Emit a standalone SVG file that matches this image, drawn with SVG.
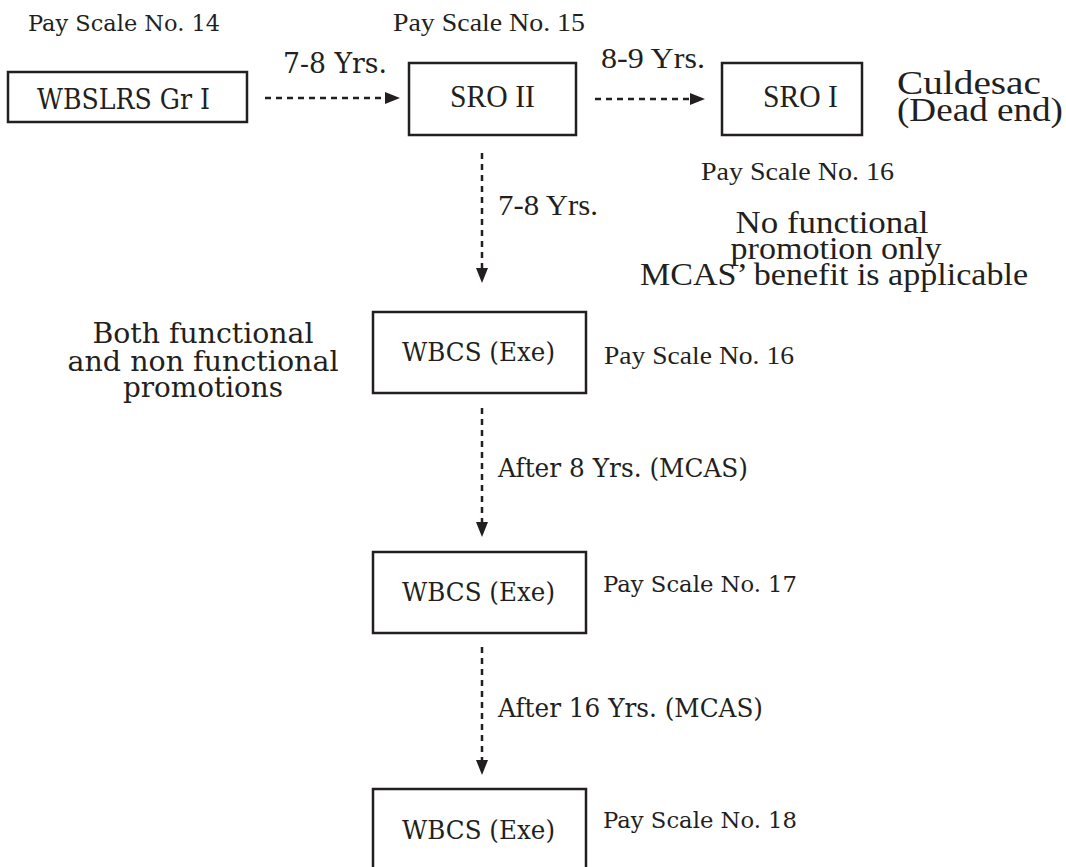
<svg xmlns="http://www.w3.org/2000/svg" width="1066" height="867" viewBox="0 0 1066 867">
<defs>
<style>
.box{fill:#fff;stroke:#231f20;stroke-width:2.5}
.sb{font-family:"DejaVu Serif","Liberation Serif",serif;fill:#231f20}
.tm{font-family:"Liberation Serif","Times New Roman",serif;fill:#231f20}
.con{stroke:#231f20;stroke-width:2.5;stroke-dasharray:6 5;fill:none}
</style>
<marker id="ah" markerUnits="userSpaceOnUse" markerWidth="15" markerHeight="12" refX="0" refY="6" orient="auto">
<path d="M0,0 L15,6 L0,12 Z" fill="#231f20"/>
</marker>
</defs>
<rect width="1066" height="867" fill="#fff"/>

<g id="connectors">
<line class="con" x1="265" y1="98" x2="385" y2="98" marker-end="url(#ah)"/>
<line class="con" x1="595" y1="99" x2="690" y2="99" marker-end="url(#ah)"/>
<line class="con" x1="482" y1="153" x2="482" y2="268" marker-end="url(#ah)"/>
<line class="con" x1="482" y1="408" x2="482" y2="522" marker-end="url(#ah)"/>
<line class="con" x1="482" y1="647" x2="482" y2="760" marker-end="url(#ah)"/>
<text class="sb" x="283" y="73" font-size="27" textLength="104" lengthAdjust="spacingAndGlyphs">7-8 Yrs.</text>
<text class="tm" x="601" y="68" font-size="30" textLength="104" lengthAdjust="spacingAndGlyphs">8-9 Yrs.</text>
<text class="tm" x="498" y="215" font-size="30" textLength="100" lengthAdjust="spacingAndGlyphs">7-8 Yrs.</text>
<text class="sb" x="498" y="477" font-size="25.5" textLength="250" lengthAdjust="spacingAndGlyphs">After 8 Yrs. (MCAS)</text>
<text class="sb" x="498" y="717" font-size="25.5" textLength="265" lengthAdjust="spacingAndGlyphs">After 16 Yrs. (MCAS)</text>
</g>

<g id="wbslrs">
<text class="sb" x="28" y="31" font-size="22" textLength="192" lengthAdjust="spacingAndGlyphs">Pay Scale No. 14</text>
<rect class="box" x="8" y="72" width="239" height="50"/>
<text class="sb" x="37" y="109" font-size="27" textLength="173" lengthAdjust="spacingAndGlyphs">WBSLRS Gr I</text>
</g>

<g id="sro2">
<text class="tm" x="393" y="31" font-size="26" textLength="192" lengthAdjust="spacingAndGlyphs">Pay Scale No. 15</text>
<rect class="box" x="409" y="63" width="167" height="72"/>
<text class="tm" x="450" y="107" font-size="31" textLength="85" lengthAdjust="spacingAndGlyphs">SRO II</text>
</g>

<g id="sro1">
<rect class="box" x="722" y="63" width="140" height="72"/>
<text class="tm" x="763" y="107" font-size="31" textLength="75" lengthAdjust="spacingAndGlyphs">SRO I</text>
<text class="tm" x="897" y="94" font-size="33" textLength="144" lengthAdjust="spacingAndGlyphs">Culdesac</text>
<text class="tm" x="897" y="121" font-size="33" textLength="166" lengthAdjust="spacingAndGlyphs">(Dead end)</text>
<text class="tm" x="701" y="180" font-size="26" textLength="193" lengthAdjust="spacingAndGlyphs">Pay Scale No. 16</text>
</g>

<g id="note-right">
<text class="tm" x="832" y="233" font-size="32" text-anchor="middle" textLength="193" lengthAdjust="spacingAndGlyphs">No functional</text>
<text class="tm" x="836" y="259" font-size="32" text-anchor="middle" textLength="211" lengthAdjust="spacingAndGlyphs">promotion only</text>
<text class="tm" x="834" y="285" font-size="32" text-anchor="middle" textLength="388" lengthAdjust="spacingAndGlyphs">MCAS’ benefit is applicable</text>
</g>

<g id="note-left">
<text class="sb" x="203" y="343" font-size="28" text-anchor="middle" textLength="221" lengthAdjust="spacingAndGlyphs">Both functional</text>
<text class="sb" x="203" y="371" font-size="28" text-anchor="middle" textLength="271" lengthAdjust="spacingAndGlyphs">and non functional</text>
<text class="sb" x="203" y="397" font-size="28" text-anchor="middle" textLength="160" lengthAdjust="spacingAndGlyphs">promotions</text>
</g>

<g id="wbcs16">
<rect class="box" x="373" y="312" width="213" height="81"/>
<text class="sb" x="402" y="361" font-size="26" textLength="153" lengthAdjust="spacingAndGlyphs">WBCS (Exe)</text>
<text class="tm" x="604" y="364" font-size="26" textLength="190" lengthAdjust="spacingAndGlyphs">Pay Scale No. 16</text>
</g>

<g id="wbcs17">
<rect class="box" x="373" y="552" width="213" height="81"/>
<text class="sb" x="402" y="601" font-size="26" textLength="153" lengthAdjust="spacingAndGlyphs">WBCS (Exe)</text>
<text class="sb" x="603" y="592" font-size="22" textLength="194" lengthAdjust="spacingAndGlyphs">Pay Scale No. 17</text>
</g>

<g id="wbcs18">
<rect class="box" x="373" y="789" width="213" height="120"/>
<text class="sb" x="402" y="839" font-size="26" textLength="153" lengthAdjust="spacingAndGlyphs">WBCS (Exe)</text>
<text class="sb" x="603" y="828" font-size="22" textLength="194" lengthAdjust="spacingAndGlyphs">Pay Scale No. 18</text>
</g>
</svg>
